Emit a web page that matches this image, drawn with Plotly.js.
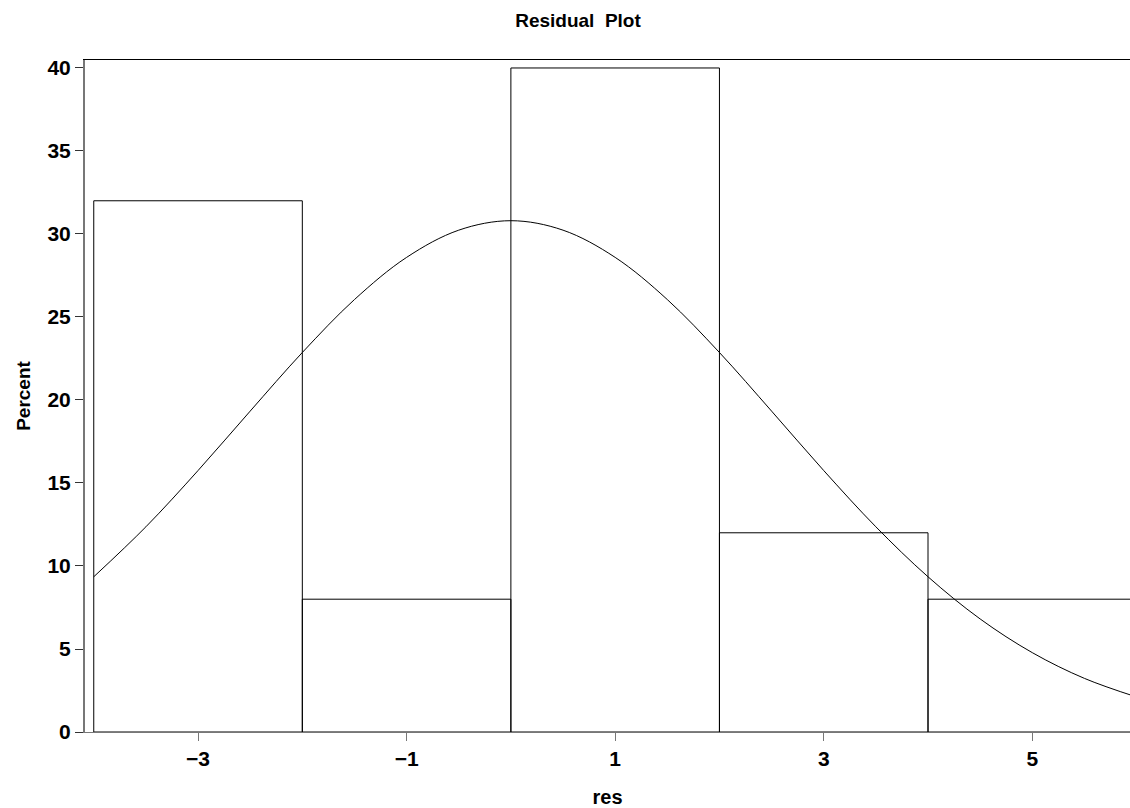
<!DOCTYPE html>
<html>
<head>
<meta charset="utf-8">
<script src="https://cdn.plot.ly/plotly-3.0.1.min.js"></script>
<style>html,body{margin:0;padding:0;background:#fff;}#chart{width:1130px;height:808px;}</style>
</head>
<body>
<div id="chart"></div>
<script>
// Histogram bins (midpoints) and percents
const binMid = [-3, -1, 1, 3, 5];
const binPct = [32, 8, 40, 12, 8];
// Fitted normal curve
const curveX = [-4, -3.5, -3, -2.5, -2, -1.5, -1, -0.5, 0, 0.5, 1, 1.5, 2, 2.5, 3, 3.5, 4, 4.5, 5, 5.5, 6];
const curveY = [9.35, 12.36, 15.75, 19.33, 22.86, 26.05, 28.59, 30.23, 30.8, 30.23, 28.59, 26.05, 22.86, 19.33, 15.75, 12.36, 9.35, 6.81, 4.78, 3.23, 2.11];
const xTicks = [-3, -1, 1, 3, 5];
const yTicks = [0, 5, 10, 15, 20, 25, 30, 35, 40];

const FONT = 'Liberation Sans, Arial, sans-serif';

const traces = [
  {
    type: 'bar', x: binMid, y: binPct, width: 2,
    marker: {color: 'rgba(255,255,255,0)', line: {color: '#000', width: 1}},
    hoverinfo: 'skip', showlegend: false
  },
  {
    type: 'scatter', mode: 'lines', x: curveX, y: curveY,
    line: {color: '#000', width: 1, shape: 'spline'},
    hoverinfo: 'skip', showlegend: false
  }
];

const layout = {
  width: 1130, height: 808,
  margin: {l: 85, r: 0, t: 60, b: 76},
  paper_bgcolor: '#fff', plot_bgcolor: '#fff',
  title: {
    text: 'Residual  Plot', xref: 'container', x: 578/1130, xanchor: 'center',
    yref: 'container', y: 1 - 20/808, yanchor: 'middle',
    font: {family: FONT, size: 19, color: '#000', weight: 'bold'}
  },
  xaxis: {
    range: [-4.084, 5.937], tickvals: xTicks, ticks: 'outside', ticklen: 8, tickwidth: 1,
    tickcolor: '#777', showgrid: false, zeroline: false,
    showline: true, linecolor: '#777', linewidth: 1, mirror: false,
    tickfont: {family: FONT, size: 21, color: '#000', weight: 'bold'},
    title: {text: 'res', standoff: 20, font: {family: FONT, size: 20, color: '#000', weight: 'bold'}}
  },
  xaxis2: {overlaying: 'x', side: 'top', range: [-4.084, 5.937], showline: true, linecolor: '#000', linewidth: 1.5, showticklabels: false, ticks: '', showgrid: false, zeroline: false},
  yaxis: {
    range: [0, 40.48], tickvals: yTicks, ticks: 'outside', ticklen: 8, tickwidth: 1,
    tickcolor: '#333', showgrid: false, zeroline: false,
    showline: true, linecolor: '#777', linewidth: 2,
    tickfont: {family: FONT, size: 21, color: '#000', weight: 'bold'},
    title: {text: 'Percent', standoff: 12, font: {family: FONT, size: 19, color: '#000', weight: 'bold'}}
  },
  bargap: 0
};
// dummy trace to show top axis line
traces.push({type: 'scatter', x: [0], y: [0], xaxis: 'x2', mode: 'none', hoverinfo: 'skip', showlegend: false});

Plotly.newPlot('chart', traces, layout, {displayModeBar: false, staticPlot: true});
</script>
</body>
</html>
